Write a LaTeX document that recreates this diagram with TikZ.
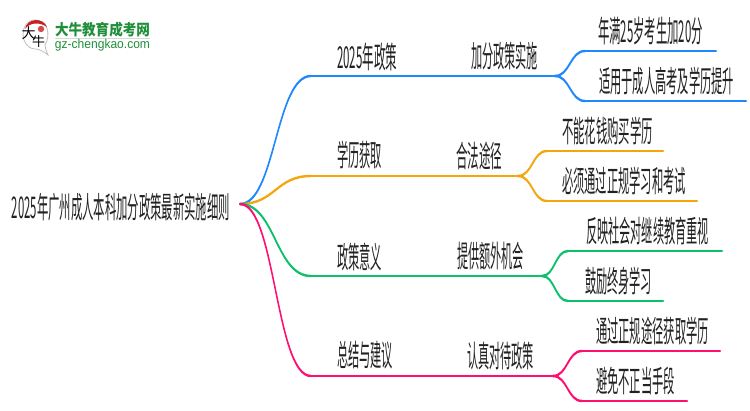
\documentclass[tikz,border=0pt]{standalone}
\usepackage{fontspec}
\usepackage{graphicx}
\usetikzlibrary{calc}
\setmainfont{Noto Sans CJK SC}
\newfontfamily\latinf{Liberation Sans}
\newcommand{\TX}[2]{\resizebox*{#1pt}{28pt}{\fontsize{20}{20}\selectfont #2}}
\definecolor{cblue}{HTML}{1E88FF}
\definecolor{corange}{HTML}{F5A60A}
\definecolor{cgreen}{HTML}{0CC06C}
\definecolor{cpink}{HTML}{FF0F70}
\definecolor{ctext}{HTML}{222222}
\definecolor{logogreen}{HTML}{1F8F3A}
\definecolor{logored}{HTML}{C8201E}
\tikzset{
  lab/.style={inner sep=0pt,outer sep=0pt,text=ctext,anchor=center},
  conn/.style={line width=2.4pt,line cap=round},
}
% S-curve of constant vertical thickness, thinner where it is steep
\newcommand{\Flow}[3]{%
  \coordinate (flowm) at ($(#2)!.5!(#3)$);
  \filldraw[#1,line width=1.3pt,line join=round] ([yshift=0.55pt]#2) .. controls ([yshift=0.55pt]flowm |- #2) and ([yshift=0.55pt]flowm |- #3) .. ([yshift=0.55pt]#3)
    -- ([yshift=-0.55pt]#3) .. controls ([yshift=-0.55pt]flowm |- #3) and ([yshift=-0.55pt]flowm |- #2) .. ([yshift=-0.55pt]#2) -- cycle;
}
\begin{document}
\begin{tikzpicture}[x=1pt,y=-1pt]
\useasboundingbox (0,0) rectangle (750,410);
\fill[white] (0,0) rectangle (750,410);
% logo
\draw[black!25,line width=0.8pt,fill=white] (35,20) .. controls (19,20) and (19,48) .. (35,49) .. controls (39,49) and (43,51) .. (48,55) .. controls (46,50) and (45,48) .. (45,45) .. controls (51,35) and (48,20) .. (35,20) -- cycle;
\fill[logored] (25,29) .. controls (27,18) and (43,17) .. (47,27) .. controls (40,22) and (30,22) .. (25,29) -- cycle;
\fill[logored!80] (41,29) circle[radius=3.2];
\node[inner sep=0pt,text=black] (logoa) at (28.5,33) {\fontsize{14}{14}\selectfont 大};
\node[inner sep=0pt,text=black] (logob) at (38.5,42) {\fontsize{13}{13}\selectfont 牛};
\node[inner sep=0pt,text=logogreen] (logot) at (102.5,30) {\resizebox*{95pt}{15pt}{\fontsize{14}{14}\selectfont\bfseries 大牛教育成考网}};
\draw[black!15,line width=0.8pt] (55,38.5) -- (150,38.5);
\node[inner sep=0pt,text=logogreen] (logou) at (102.5,45.5) {\resizebox*{95pt}{12pt}{\latinf\fontsize{11}{11}\selectfont gz-chengkao.com}};
% text nodes
\node[lab] (root) at (121,207) {\TX{218}{2025年广州成人本科加分政策最新实施细则}};
\node[lab] (b1) at (367,57) {\TX{60}{2025年政策}};
\node[lab] (b2) at (359.5,155) {\TX{45}{学历获取}};
\node[lab] (b3) at (359.5,257) {\TX{45}{政策意义}};
\node[lab] (b4) at (365,355) {\TX{56}{总结与建议}};
\node[lab] (c1) at (504.5,56) {\TX{67}{加分政策实施}};
\node[lab] (c2) at (479,155.5) {\TX{46}{合法途径}};
\node[lab] (c3) at (490.5,256) {\TX{67}{提供额外机会}};
\node[lab] (c4) at (500.5,355.5) {\TX{67}{认真对待政策}};
\node[lab] (d1) at (650.5,31) {\TX{105}{年满25岁考生加20分}};
\node[lab] (d2) at (666.5,81) {\TX{135}{适用于成人高考及学历提升}};
\node[lab] (d3) at (607.5,131) {\TX{91}{不能花钱购买学历}};
\node[lab] (d4) at (624,181) {\TX{124}{必须通过正规学习和考试}};
\node[lab] (d5) at (647.5,231) {\TX{123}{反映社会对继续教育重视}};
\node[lab] (d6) at (618.5,281) {\TX{67}{鼓励终身学习}};
\node[lab] (d7) at (652.5,331) {\TX{113}{通过正规途径获取学历}};
\node[lab] (d8) at (635.5,381) {\TX{79}{避免不正当手段}};
% connector anchors
\coordinate (o) at (240,204);
\coordinate (e1) at (311,76);   \coordinate (j1) at (555,76);
\coordinate (e2) at (311,176);  \coordinate (j2) at (518,176);
\coordinate (e3) at (311,276);  \coordinate (j3) at (542,276);
\coordinate (e4) at (311,376);  \coordinate (j4) at (553,376);
\coordinate (u1a) at (585,51);  \coordinate (u1b) at (716,51);
\coordinate (l1a) at (585,101); \coordinate (l1b) at (746,101);
\coordinate (u2a) at (547,151); \coordinate (u2b) at (663,151);
\coordinate (l2a) at (547,201); \coordinate (l2b) at (697,201);
\coordinate (u3a) at (568,251); \coordinate (u3b) at (722,251);
\coordinate (l3a) at (568,301); \coordinate (l3b) at (663,301);
\coordinate (u4a) at (582,351); \coordinate (u4b) at (720,351);
\coordinate (l4a) at (582,401); \coordinate (l4b) at (687,401);
% connectors
\Flow{cblue}{o}{e1}   \draw[conn,cblue] (e1) -- (j1);
\Flow{cblue}{j1}{u1a} \draw[conn,cblue] (u1a) -- (u1b);
\Flow{cblue}{j1}{l1a} \draw[conn,cblue] (l1a) -- (l1b);
\Flow{corange}{o}{e2}   \draw[conn,corange] (e2) -- (j2);
\Flow{corange}{j2}{u2a} \draw[conn,corange] (u2a) -- (u2b);
\Flow{corange}{j2}{l2a} \draw[conn,corange] (l2a) -- (l2b);
\Flow{cgreen}{o}{e3}   \draw[conn,cgreen] (e3) -- (j3);
\Flow{cgreen}{j3}{u3a} \draw[conn,cgreen] (u3a) -- (u3b);
\Flow{cgreen}{j3}{l3a} \draw[conn,cgreen] (l3a) -- (l3b);
\Flow{cpink}{o}{e4}   \draw[conn,cpink] (e4) -- (j4);
\Flow{cpink}{j4}{u4a} \draw[conn,cpink] (u4a) -- (u4b);
\Flow{cpink}{j4}{l4a} \draw[conn,cpink] (l4a) -- (l4b);
\end{tikzpicture}
\end{document}
